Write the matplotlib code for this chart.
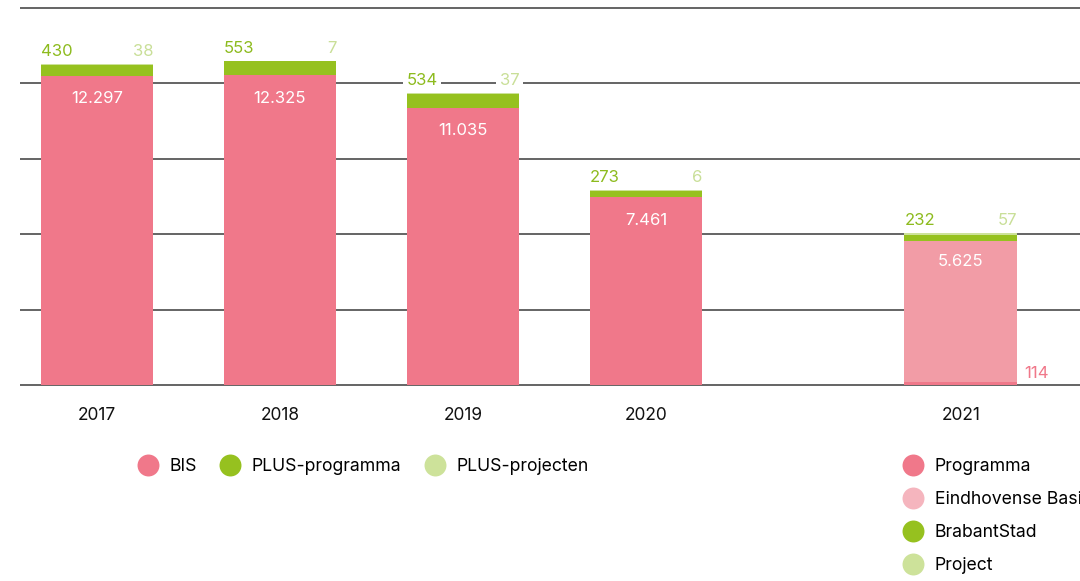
import matplotlib.pyplot as plt
from matplotlib.lines import Line2D

plt.rcParams['font.family'] = ['Inter', 'DejaVu Sans']

# data
years = ['2017', '2018', '2019', '2020', '2021']
bis = [12297, 12325, 11035, 7461]
plus_programma = [430, 553, 534, 273]
plus_projecten = [38, 7, 37, 6]

# 2021 uses a different split
programma_2021 = 114
eindhovense_basis_2021 = 5625
brabantstad_2021 = 232
project_2021 = 57

legend_left = ['BIS', 'PLUS-programma', 'PLUS-projecten']
legend_right = ['Programma', 'Eindhovense Basis', 'BrabantStad', 'Project']

pink = '#F0788A'
light_pink = '#F29CA6'
legend_light_pink = '#F5B5BE'
green = '#96C11F'
light_green = '#CDE29A'
green_txt = '#8DBB1E'
light_green_txt = '#C9DF98'


def nl(v):
    return f"{v:,}".replace(',', '.')


xpos = [0, 1, 2, 3, 4.72]
w = 0.617
fs = 12

fig = plt.figure(figsize=(10.8, 5.81), dpi=100)
ax = fig.add_axes([20 / 1080, 190 / 581, 1060 / 1080, 391 / 581])
ax.set_xlim(-77 / 183, -77 / 183 + 1060 / 183)
ax.set_ylim(-238.7, 15318)

ax.set_axisbelow(True)
ax.set_yticks(range(0, 15001, 3000))
ax.yaxis.grid(True, color='#4a4a4a', lw=1.2)
for s in ax.spines.values():
    s.set_visible(False)
ax.tick_params(axis='y', left=False, labelleft=False)
ax.tick_params(axis='x', length=0, pad=11.5, labelsize=12.5, labelcolor='#111111')
ax.set_xticks(xpos)
ax.set_xticklabels(years)

lab_bbox = dict(fc='white', ec='none', pad=2.5)

# 2017 - 2020
for i in range(4):
    x = xpos[i]
    b1 = bis[i]
    b2 = b1 + plus_programma[i]
    top = b2 + plus_projecten[i]
    ax.bar(x, bis[i], w, color=pink, zorder=2)
    ax.bar(x, plus_programma[i], w, bottom=b1, color=green, zorder=2)
    ax.bar(x, plus_projecten[i], w, bottom=b2, color=light_green, zorder=2)
    ax.annotate(nl(bis[i]), (x, b1), xytext=(0, -16.5), textcoords='offset points',
                ha='center', va='center', color='white', fontsize=fs)
    ax.annotate(str(plus_programma[i]), (x - w / 2, top), xytext=(0, 9),
                textcoords='offset points', ha='left', va='center',
                color=green_txt, fontsize=fs, bbox=lab_bbox, zorder=3)
    ax.annotate(str(plus_projecten[i]), (x + w / 2, top), xytext=(0, 9),
                textcoords='offset points', ha='right', va='center',
                color=light_green_txt, fontsize=fs, bbox=lab_bbox, zorder=3)

# 2021
x = xpos[4]
b1 = programma_2021
b2 = b1 + eindhovense_basis_2021
b3 = b2 + brabantstad_2021
top = b3 + project_2021
ax.bar(x, programma_2021, w, color=pink, zorder=2)
ax.bar(x, eindhovense_basis_2021, w, bottom=b1, color=light_pink, zorder=2)
ax.bar(x, brabantstad_2021, w, bottom=b2, color=green, zorder=2)
ax.bar(x, project_2021, w, bottom=b3, color=light_green, zorder=2)
ax.annotate(nl(eindhovense_basis_2021), (x, b2), xytext=(0, -15),
            textcoords='offset points', ha='center', va='center',
            color='white', fontsize=fs)
ax.annotate(str(brabantstad_2021), (x - w / 2, top), xytext=(0, 9),
            textcoords='offset points', ha='left', va='center',
            color=green_txt, fontsize=fs, bbox=lab_bbox, zorder=3)
ax.annotate(str(project_2021), (x + w / 2, top), xytext=(0, 9),
            textcoords='offset points', ha='right', va='center',
            color=light_green_txt, fontsize=fs, bbox=lab_bbox, zorder=3)
ax.annotate(str(programma_2021), (x + w / 2, 0), xytext=(5, 8.6),
            textcoords='offset points', ha='left', va='center',
            color=pink, fontsize=fs)


def dot(c):
    return Line2D([], [], marker='o', ls='', ms=15.8, mfc=c, mec='none')


leg1 = fig.legend([dot(pink), dot(green), dot(light_green)], legend_left,
                  ncol=3, loc='center left',
                  bbox_to_anchor=(139.7 / 1080, (581 - 466.5) / 581),
                  frameon=False, fontsize=12.7, handlelength=0.95,
                  handletextpad=0.75, columnspacing=1.4,
                  borderpad=0, borderaxespad=0)
leg2 = fig.legend([dot(pink), dot(legend_light_pink), dot(green), dot(light_green)],
                  legend_right, ncol=1, loc='upper left',
                  bbox_to_anchor=(904.7 / 1080, (581 - 458) / 581),
                  frameon=False, fontsize=12.7, handlelength=0.95,
                  handletextpad=0.75, labelspacing=0.91,
                  borderpad=0, borderaxespad=0)

fig.savefig('out.png', dpi=100)
